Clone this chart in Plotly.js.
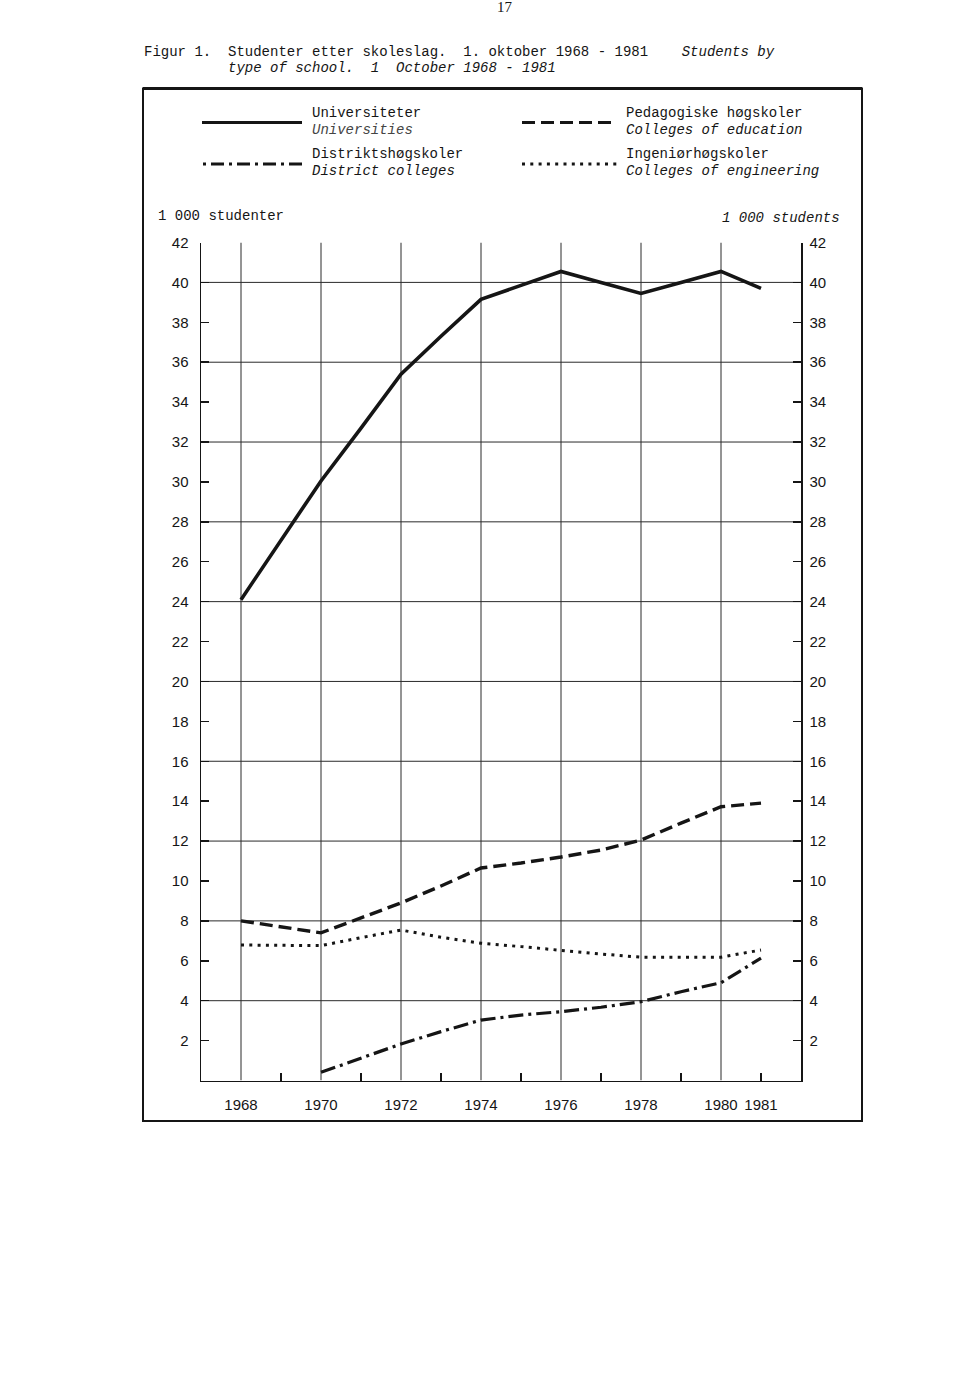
<!DOCTYPE html>
<html>
<head>
<meta charset="utf-8">
<script src="https://cdn.plot.ly/plotly-3.0.1.min.js"></script>
<style>
  html, body { margin: 0; padding: 0; background: #fff; }
  #chart { width: 960px; height: 1379px; }
</style>
</head>
<body>
<div id="chart"></div>
<script>
// ---- Data (thousand students, 1 October each year) ----
const years = [1968, 1969, 1970, 1971, 1972, 1973, 1974, 1975, 1976, 1977, 1978, 1979, 1980, 1981];
const universities = [24.1, 27.1, 30.05, 32.7, 35.4, 37.3, 39.15, 39.85, 40.55, 40.0, 39.45, 40.0, 40.55, 39.7];
const education    = [8.0, 7.7, 7.4, 8.15, 8.9, 9.75, 10.65, 10.9, 11.2, 11.55, 12.05, 12.9, 13.72, 13.9];
const engineering  = [6.79, 6.78, 6.76, 7.16, 7.54, 7.18, 6.88, 6.71, 6.51, 6.34, 6.18, 6.18, 6.18, 6.54];
const district     = [null, null, 0.41, 1.11, 1.83, 2.45, 3.03, 3.28, 3.45, 3.67, 3.95, 4.45, 4.9, 6.13];

const xTickVals = [1968, 1970, 1972, 1974, 1976, 1978, 1980, 1981];
const xTickText = ['1968', '1970', '1972', '1974', '1976', '1978', '1980', '1981'];
const xMinorTicks = [1969, 1971, 1973, 1975, 1977, 1979, 1981];
const xGridYears = [1968, 1970, 1972, 1974, 1976, 1978, 1980];
const yTickVals = [2, 4, 6, 8, 10, 12, 14, 16, 18, 20, 22, 24, 26, 28, 30, 32, 34, 36, 38, 40, 42];
const yGridVals = [4, 8, 12, 16, 20, 24, 28, 32, 36, 40];

const names = {
  uni: ['Universiteter', 'Universities'],
  edu: ['Pedagogiske høgskoler', 'Colleges of education'],
  dis: ['Distriktshøgskoler', 'District colleges'],
  eng: ['Ingeniørhøgskoler', 'Colleges of engineering']
};

// ---- page geometry helpers (page pixels -> paper fraction) ----
const W = 960, H = 1379;
const px = v => v / W;
const py = v => 1 - v / H;

const MONO = '"Liberation Mono", "DejaVu Sans Mono", monospace';
const SANS = '"Liberation Sans", "DejaVu Sans", sans-serif';
const INK = '#151515';
const NB = s => s.replace(/ /g, '\u00a0');

const styles = {
  uni: {color: INK, width: 3.6, dash: 'solid'},
  edu: {color: INK, width: 3.4, dash: '13px,6px'},
  dis: {color: INK, width: 3.2, dash: '15px,5px,3px,5px'},
  eng: {color: INK, width: 3.0, dash: '3px,5.3px'}
};

const traces = [
  {x: years, y: universities, name: names.uni[1], mode: 'lines', line: styles.uni, hoverinfo: 'x+y'},
  {x: years, y: education, name: names.edu[1], mode: 'lines', line: styles.edu, hoverinfo: 'x+y'},
  {x: years, y: engineering, name: names.eng[1], mode: 'lines', line: styles.eng, hoverinfo: 'x+y'},
  {x: years, y: district, name: names.dis[1], mode: 'lines', line: styles.dis, hoverinfo: 'x+y', connectgaps: false},
  // invisible trace to anchor the right-hand axis
  {x: years, y: universities, yaxis: 'y2', mode: 'lines', line: {width: 0, color: 'rgba(0,0,0,0)'}, hoverinfo: 'skip', showlegend: false}
];

const shapes = [];
// grid lines
xGridYears.forEach(yr => shapes.push({type: 'line', xref: 'x', yref: 'y', x0: yr, x1: yr, y0: 0, y1: 42,
  line: {color: '#2a2a2a', width: 1}, layer: 'below'}));
yGridVals.forEach(v => shapes.push({type: 'line', xref: 'x', yref: 'y', x0: 1967, x1: 1982, y0: v, y1: v,
  line: {color: '#2a2a2a', width: 1}, layer: 'below'}));
// outer frame
shapes.push({type: 'rect', xref: 'paper', yref: 'paper', x0: px(143), x1: px(862), y0: py(1121), y1: py(88.5),
  line: {color: INK, width: 2}});
shapes.push({type: 'line', xref: 'paper', yref: 'paper', x0: px(143), x1: px(862), y0: py(88.5), y1: py(88.5),
  line: {color: INK, width: 3}});
// legend samples
const legendLines = [
  {k: 'uni', x0: 202, x1: 302, y: 122.5},
  {k: 'edu', x0: 522, x1: 613, y: 122.5},
  {k: 'dis', x0: 203, x1: 303, y: 164},
  {k: 'eng', x0: 522, x1: 621, y: 164}
];
legendLines.forEach(l => {
  const s = styles[l.k];
  let dash = s.dash;
  if (l.k === 'dis') dash = '3px,5px,13px,5px';
  shapes.push({type: 'line', xref: 'paper', yref: 'paper', x0: px(l.x0), x1: px(l.x1), y0: py(l.y), y1: py(l.y),
    line: {color: INK, width: l.k === 'uni' ? 3 : 3.2, dash: dash}});
});

const ann = (text, x, y, xanchor, opts) => Object.assign({
  text: text, xref: 'paper', yref: 'paper', x: px(x), y: py(y), xanchor: xanchor, yanchor: 'middle',
  showarrow: false, font: {family: MONO, size: 14, color: INK}
}, opts || {});

const annotations = [
  ann('17', 505, 7, 'center', {font: {family: '"Liberation Serif", serif', size: 15, color: INK}}),
  ann(NB('Figur 1.  Studenter etter skoleslag.  1. oktober 1968 - 1981    ') + '<i>' + NB('Students by') + '</i>', 142, 52, 'left'),
  ann('<i>' + NB('type of school.  1  October 1968 - 1981') + '</i>', 226, 67.5, 'left'),
  ann(names.uni[0], 310, 113, 'left'),
  ann('<i>' + names.uni[1] + '</i>', 310, 129.5, 'left', {font: {family: MONO, size: 14, color: '#444'}}),
  ann(names.dis[0], 310, 154.5, 'left'),
  ann('<i>' + NB(names.dis[1]) + '</i>', 310, 170.5, 'left'),
  ann(NB(names.edu[0]), 624, 113, 'left'),
  ann('<i>' + NB(names.edu[1]) + '</i>', 624, 129.5, 'left'),
  ann(names.eng[0], 624, 154.5, 'left'),
  ann('<i>' + NB(names.eng[1]) + '</i>', 624, 170.5, 'left'),
  ann(NB('1 000 studenter'), 156, 216, 'left'),
  ann('<i>' + NB('1 000 students') + '</i>', 842, 218, 'right')
];

const yCommon = {
  range: [0, 42], tickmode: 'array', tickvals: yTickVals, ticktext: yTickVals.map(String),
  ticks: 'inside', ticklen: 8, tickwidth: 1.5, tickcolor: INK,
  showline: true, linecolor: INK, linewidth: 1.5, showgrid: false, zeroline: false,
  tickfont: {family: SANS, size: 15, color: INK}, fixedrange: true
};

const layout = {
  width: W, height: H,
  margin: {l: 0, r: 0, t: 0, b: 0, pad: 0},
  paper_bgcolor: '#fff', plot_bgcolor: 'rgba(0,0,0,0)',
  showlegend: false,
  xaxis: {
    domain: [px(201), px(801)], range: [1967, 1982],
    tickmode: 'array', tickvals: xTickVals, ticktext: xTickText, ticks: '',
    minor: {tickmode: 'array', tickvals: xMinorTicks, ticks: 'inside', ticklen: 8, tickwidth: 1.5, tickcolor: INK, showgrid: false},
    showline: true, linecolor: INK, linewidth: 1.5, showgrid: false, zeroline: false,
    tickfont: {family: SANS, size: 15, color: INK}, ticklabelstandoff: 10, fixedrange: true
  },
  yaxis: Object.assign({}, yCommon, {domain: [py(1080.5), py(242.5)], side: 'left', ticklabelstandoff: 8}),
  yaxis2: Object.assign({}, yCommon, {overlaying: 'y', side: 'right', anchor: 'x', ticklabelstandoff: 4}),
  shapes: shapes,
  annotations: annotations
};

Plotly.newPlot('chart', traces, layout, {displayModeBar: false, staticPlot: true});
</script>
</body>
</html>
